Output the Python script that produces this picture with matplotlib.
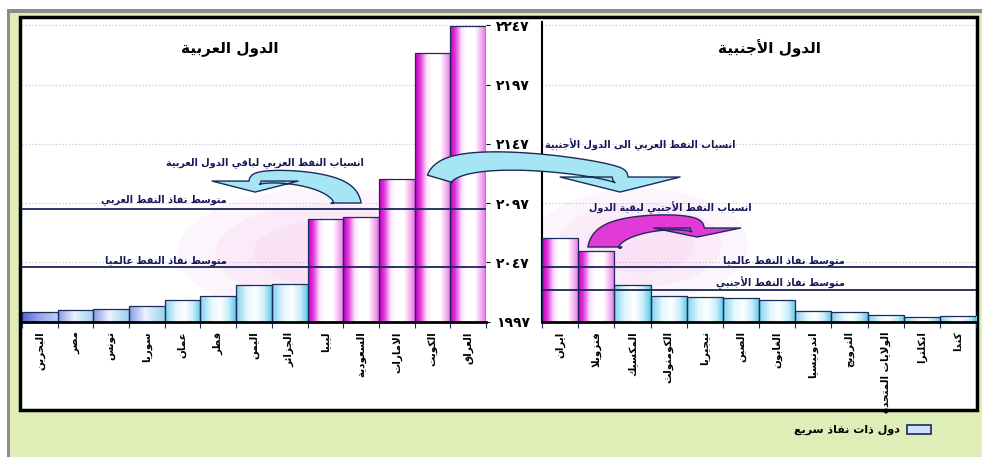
import matplotlib
matplotlib.use('Agg')
import matplotlib.pyplot as plt
import numpy as np
from matplotlib.colors import LinearSegmentedColormap
from matplotlib.patches import Rectangle, Ellipse, Patch, Polygon
from matplotlib.transforms import IdentityTransform
from matplotlib.ticker import FuncFormatter

# data (year of oil depletion)
arab_countries = ['البحرين', 'مصر', 'تونس', 'سوريا', 'عمان', 'قطر', 'اليمن',
                  'الجزائر', 'ليبيا', 'السعودية', 'الامارات', 'الكويت', 'العراق']
arab_years = [2005, 2007, 2008, 2010, 2015, 2019, 2028, 2029, 2084, 2085, 2117, 2224, 2246]

foreign_countries = ['ايران', 'فنزويلا', 'المكسيك', 'الكومنولث', 'نيجيريا', 'الصين',
                     'الغابون', 'اندونيسيا', 'النرويج', 'الولايات المتحدة', 'انكلترا', 'كندا']
foreign_years = [2068, 2057, 2028, 2019, 2018, 2017, 2015, 2006, 2005, 2003, 2001, 2002]

arab_avg = 2092
world_avg = 2043
foreign_avg = 2024

base_year = 1997
year_ticks = [1997, 2047, 2097, 2147, 2197, 2247]

# ---- minimal arabic shaping (matplotlib has no bidi / joining) ----
DUAL = {'ب': 0xFE8F, 'ت': 0xFE95, 'ث': 0xFE99, 'ج': 0xFE9D, 'ح': 0xFEA1, 'خ': 0xFEA5,
        'س': 0xFEB1, 'ش': 0xFEB5, 'ص': 0xFEB9, 'ض': 0xFEBD, 'ط': 0xFEC1, 'ظ': 0xFEC5,
        'ع': 0xFEC9, 'غ': 0xFECD, 'ف': 0xFED1, 'ق': 0xFED5, 'ك': 0xFED9, 'ل': 0xFEDD,
        'م': 0xFEE1, 'ن': 0xFEE5, 'ه': 0xFEE9, 'ي': 0xFEF1, 'ئ': 0xFE89}
RIGHT = {'ا': 0xFE8D, 'أ': 0xFE83, 'إ': 0xFE87, 'آ': 0xFE81, 'ة': 0xFE93, 'د': 0xFEA9,
         'ذ': 0xFEAB, 'ر': 0xFEAD, 'ز': 0xFEAF, 'و': 0xFEED, 'ى': 0xFEEF, 'ؤ': 0xFE85}
LAM_ALEF = {'ا': 0xFEFB, 'أ': 0xFEF7, 'إ': 0xFEF9, 'آ': 0xFEF5}


def shape(text):
    units = []
    i = 0
    while i < len(text):
        if text[i] == 'ل' and i + 1 < len(text) and text[i + 1] in LAM_ALEF:
            units.append(('la', text[i + 1]))
            i += 2
        else:
            units.append(text[i])
            i += 1

    def links_next(u):
        return not isinstance(u, tuple) and u in DUAL

    def links_prev(u):
        return isinstance(u, tuple) or u in DUAL or u in RIGHT

    out = []
    for k, u in enumerate(units):
        prev = units[k - 1] if k > 0 else None
        nxt = units[k + 1] if k + 1 < len(units) else None
        jp = prev is not None and links_next(prev) and links_prev(u)
        jn = nxt is not None and links_next(u) and links_prev(nxt)
        if isinstance(u, tuple):
            out.append(chr(LAM_ALEF[u[1]] + (1 if jp else 0)))
        elif u in DUAL:
            off = 3 if (jp and jn) else 1 if jp else 2 if jn else 0
            out.append(chr(DUAL[u] + off))
        elif u in RIGHT:
            out.append(chr(RIGHT[u] + (1 if jp else 0)))
        else:
            out.append(u)
    return ''.join(reversed(out))


AR_DIGITS = str.maketrans('0123456789', '٠١٢٣٤٥٦٧٨٩')

plt.rcParams['font.family'] = ['DejaVu Sans']

W, H = 982, 457
green = '#dfeeb6'
navy = '#1c2a5c'
txt_col = '#16165a'

fig = plt.figure(figsize=(W / 100, H / 100), dpi=100, facecolor=green)


def frect(x0, y0, x1, y1, **kw):
    # rectangle in pixel coords (top-left origin) on the figure
    r = Rectangle((x0 / W, 1 - y1 / H), (x1 - x0) / W, (y1 - y0) / H,
                  transform=fig.transFigure, **kw)
    fig.add_artist(r)
    return r


frect(0, 0, W, 9, facecolor='white', edgecolor='none', zorder=0.1)
frect(0, 0, 7, H, facecolor='white', edgecolor='none', zorder=0.1)
frect(7, 9, W, 13, facecolor='#8c8c8c', edgecolor='none', zorder=0.2)
frect(7, 9, 10, H, facecolor='#8c8c8c', edgecolor='none', zorder=0.2)
frect(20, 17, 977, 410, facecolor='white', edgecolor='black', lw=2.5, zorder=0.3)

ax1 = fig.add_axes([22 / W, 1 - 321.7 / H, 464 / W, 300 / H], zorder=1)
ax2 = fig.add_axes([542 / W, 1 - 321.7 / H, 434 / W, 300 / H], zorder=1)

profiles = {
    'pink': [(0, '#c400bc'), (0.13, '#e030dc'), (0.32, '#fbe2fa'), (0.45, '#ffffff'),
             (0.7, '#ffffff'), (0.9, '#f3a6ef'), (1, '#ea6ee6')],
    'cyan': [(0, '#7ed2ef'), (0.3, '#e2f6fd'), (0.55, '#ffffff'), (0.8, '#c6eef9'),
             (1, '#5ec6e8')],
    'blue': [(0, '#8a9ae6'), (0.45, '#eef2ff'), (1, '#9ad0f2')],
    'violet': [(0, '#5a62d0'), (0.5, '#9aa6ec'), (1, '#b8d4f6')],
}
cmaps = {k: LinearSegmentedColormap.from_list(k, v) for k, v in profiles.items()}

arab_style = ['violet', 'blue', 'blue', 'blue', 'cyan', 'cyan', 'cyan', 'cyan',
              'pink', 'pink', 'pink', 'pink', 'pink']
foreign_style = ['pink', 'pink'] + ['cyan'] * 10

grad = np.linspace(0, 1, 64)[None, :]


def draw_panel(ax, names, years, styles):
    x = np.arange(len(names))
    heights = np.array(years) - base_year
    bars = ax.bar(x, heights, bottom=base_year, width=1.0, facecolor='none',
                  edgecolor=navy, lw=0.9, zorder=3)
    for b, st in zip(bars, styles):
        im = ax.imshow(grad, cmap=cmaps[st], aspect='auto', interpolation='bilinear',
                       extent=[b.get_x(), b.get_x() + b.get_width(),
                               b.get_y(), b.get_y() + b.get_height()], zorder=2)
        im.set_clip_path(b)
    ax.set_xlim(-0.5, len(names) - 0.5)
    ax.set_ylim(base_year, 2250)
    ax.set_facecolor('none')
    ax.set_yticks(year_ticks)
    ax.grid(axis='y', ls=(0, (1, 2)), color='#c4bccc', lw=0.8)
    ax.set_axisbelow(True)
    ax.set_xticks(x)
    ax.set_xticklabels([shape(n) for n in names], rotation=90, fontsize=7.5,
                       fontweight='bold', va='top', ha='center')
    ax.set_xticks(np.arange(len(names) + 1) - 0.5, minor=True)
    ax.tick_params(axis='x', which='major', length=0, pad=7)
    ax.tick_params(axis='x', which='minor', length=4, color=navy, width=0.8)
    for s in ['top', 'right', 'left']:
        ax.spines[s].set_visible(False)
    ax.spines['bottom'].set_linewidth(2)
    ax.spines['bottom'].set_zorder(5)
    return bars


draw_panel(ax1, arab_countries, arab_years, arab_style)
draw_panel(ax2, foreign_countries, foreign_years, foreign_style)

# pink haze behind the flow arrows
for ax, cx, cy, w, h in [(ax1, 8.1, 2055, 8.5, 110), (ax2, 2.2, 2062, 6.0, 95)]:
    for s, a in [(1.0, 0.12), (0.75, 0.15), (0.5, 0.18)]:
        ax.add_patch(Ellipse((cx, cy), w * s, h * s, facecolor='#f0b4ea',
                             edgecolor='none', alpha=a, zorder=1))

ax1.yaxis.tick_right()
ax1.yaxis.set_major_formatter(FuncFormatter(lambda v, p: str(int(v)).translate(AR_DIGITS)))
ax1.tick_params(axis='y', length=3, pad=4, labelsize=10)
for t in ax1.get_yticklabels():
    t.set_fontweight('bold')
ax2.tick_params(axis='y', length=0, labelleft=False)
ax2.spines['left'].set_visible(True)
ax2.spines['left'].set_linewidth(1.5)

# average lines
line_kw = dict(color='#1a2458', lw=1.3, zorder=4)
ax1.axhline(arab_avg, **line_kw)
ax1.axhline(world_avg, **line_kw)
ax2.axhline(world_avg, **line_kw)
ax2.axhline(foreign_avg, **line_kw)

tkw = dict(fontsize=7, fontweight='bold', color=txt_col, zorder=7)
ax1.text(0.448, 0.912, shape('الدول العربية'), transform=ax1.transAxes, ha='center',
         va='center', fontsize=11, fontweight='bold')
ax2.text(0.525, 0.912, shape('الدول الأجنبية'), transform=ax2.transAxes, ha='center',
         va='center', fontsize=11, fontweight='bold')
ax1.text(0.524, 0.532, shape('انسياب النفط العربي لباقي الدول العربية'),
         transform=ax1.transAxes, ha='center', va='center', **tkw)
ax1.text(0.442, 0.406, shape('متوسط نفاذ النفط العربي'), transform=ax1.transAxes,
         ha='right', va='center', **tkw)
ax1.text(0.442, 0.202, shape('متوسط نفاذ النفط عالميا'), transform=ax1.transAxes,
         ha='right', va='center', **tkw)
ax2.text(0.226, 0.589, shape('انسياب النفط العربي الى الدول الأجنبية'),
         transform=ax2.transAxes, ha='center', va='center', **tkw)
ax2.text(0.295, 0.379, shape('انسياب النفط الأجنبي لبقية الدول'),
         transform=ax2.transAxes, ha='center', va='center', **tkw)
ax2.text(0.698, 0.202, shape('متوسط نفاذ النفط عالميا'), transform=ax2.transAxes,
         ha='right', va='center', **tkw)
ax2.text(0.698, 0.129, shape('متوسط نفاذ النفط الأجنبي'), transform=ax2.transAxes,
         ha='right', va='center', **tkw)


# flow arrows: curved band along a cubic bezier (control points given in the axes'
# data coords), tapering, ending in a flat head that points down
def flow_arrow(pts, color, w0, w1, head_w, head_l):
    P = np.array([a.transData.transform(p) for a, p in pts])
    t = np.linspace(0, 1, 80)[:, None]
    B = ((1 - t) ** 3 * P[0] + 3 * (1 - t) ** 2 * t * P[1]
         + 3 * (1 - t) * t ** 2 * P[2] + t ** 3 * P[3])
    D = (3 * (1 - t) ** 2 * (P[1] - P[0]) + 6 * (1 - t) * t * (P[2] - P[1])
         + 3 * t ** 2 * (P[3] - P[2]))
    D = D / np.linalg.norm(D, axis=1, keepdims=True)
    N = np.column_stack([-D[:, 1], D[:, 0]])
    w = (w1 + (w0 - w1) * (1 - t[:, 0]) ** 3)[:, None] / 2
    left, right = B + N * w, B - N * w
    end, d, n = B[-1], D[-1], N[-1]
    head = np.array([end + n * head_w / 2, end + d * head_l, end - n * head_w / 2])
    verts = np.vstack([left, head, right[::-1]])
    fig.add_artist(Polygon(verts, closed=True, transform=IdentityTransform(),
                           facecolor=color, edgecolor=navy, lw=1, zorder=6,
                           joinstyle='round'))


cyan_fill = '#a6e6f4'
flow_arrow([(ax1, (8.58, 2097.1)), (ax1, (8.58, 2120.0)), (ax1, (6.03, 2123.2)),
            (ax1, (6.03, 2115.6))], cyan_fill, 30, 12, 86, 11)
flow_arrow([(ax1, (11.21, 2117.5)), (ax1, (11.49, 2146.5)), (ax2, (1.66, 2125.5)),
            (ax2, (1.66, 2119.0))], cyan_fill, 26, 16, 120, 15)
flow_arrow([(ax2, (1.24, 2060.0)), (ax2, (1.24, 2083.0)), (ax2, (3.79, 2084.5)),
            (ax2, (3.79, 2076.0))], '#e23ad6', 34, 14, 87, 9)

fig.legend(handles=[Patch(facecolor='#cfe0fb', edgecolor=navy, lw=1.2)],
           labels=[shape('دول ذات نفاذ سريع')], loc='center right',
           bbox_to_anchor=(941 / W, 1 - 430 / H), markerfirst=False, frameon=False,
           prop={'weight': 'bold', 'size': 8}, handlelength=2.2, handleheight=0.9,
           handletextpad=0.6)

fig.savefig('out.png', dpi=100, facecolor=green)
